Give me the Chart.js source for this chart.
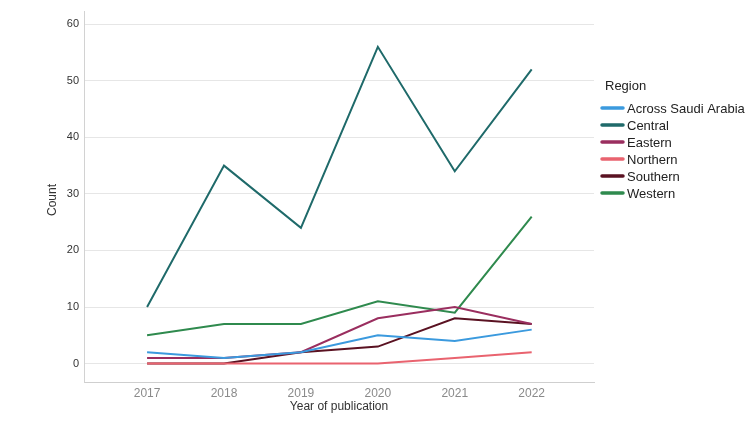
<!DOCTYPE html>
<html>
<head>
<meta charset="utf-8">
<script src="https://cdn.jsdelivr.net/npm/chart.js@4/dist/chart.umd.min.js"></script>
<style>
html,body{margin:0;padding:0;background:#fff;}
#wrap{width:750px;height:422px;position:relative;}
</style>
</head>
<body>
<div id="wrap"><canvas id="c" width="750" height="422"></canvas></div>
<script>
const years = [2017, 2018, 2019, 2020, 2021, 2022];
const regions = ["Across Saudi Arabia", "Central", "Eastern", "Northern", "Southern", "Western"];
const acrossSaudiArabia = [2, 1, 2, 5, 4, 6];
const central = [10, 35, 24, 56, 34, 52];
const eastern = [1, 1, 2, 8, 10, 7];
const northern = [0, 0, 0, 0, 1, 2];
const southern = [0, 0, 2, 3, 8, 7];
const western = [5, 7, 7, 11, 9, 26];
const yTicks = [0, 10, 20, 30, 40, 50, 60];
const legendTitle = "Region";
const xTitle = "Year of publication";
const yTitle = "Count";

const seriesValues = [acrossSaudiArabia, central, eastern, northern, southern, western];
const colors = ["#3b9ade", "#1f6a6a", "#9a2e5f", "#e9636f", "#5a1222", "#2f8a4e"];

const FONT = "'Liberation Sans', Arial, Helvetica, sans-serif";

const datasets = regions.map((name, i) => ({
  label: name,
  data: years.map((yr, j) => ({x: yr, y: seriesValues[i][j]})),
  borderColor: colors[i],
  backgroundColor: colors[i],
  borderWidth: 2,
  pointRadius: 0,
  tension: 0,
  fill: false
}));

const customLegend = {
  id: 'customLegend',
  afterDraw(chart) {
    const ctx = chart.ctx;
    ctx.save();
    ctx.textBaseline = 'middle';
    ctx.textAlign = 'left';
    ctx.fillStyle = '#222';
    ctx.font = '13px ' + FONT;
    ctx.fillText(legendTitle, 605, 86);
    chart.data.datasets.forEach((ds, i) => {
      const y = 108 + i * 17;
      ctx.strokeStyle = ds.borderColor;
      ctx.lineWidth = 3.5;
      ctx.lineCap = 'round';
      ctx.beginPath();
      ctx.moveTo(602, y);
      ctx.lineTo(623, y);
      ctx.stroke();
      ctx.fillStyle = '#222';
      ctx.fillText(ds.label, 627, y + 1);
    });
    // y-axis title
    ctx.save();
    ctx.translate(53, 200);
    ctx.rotate(-Math.PI / 2);
    ctx.textAlign = 'center';
    ctx.fillStyle = '#333';
    ctx.font = '12px ' + FONT;
    ctx.fillText(yTitle, 0, 0);
    ctx.restore();
    ctx.restore();
  }
};

new Chart(document.getElementById('c'), {
  type: 'line',
  data: {datasets},
  options: {
    responsive: false,
    animation: false,
    layout: {padding: {left: 0, right: 156, top: 0, bottom: 0}},
    plugins: {legend: {display: false}, tooltip: {enabled: false}},
    scales: {
      x: {
        type: 'linear',
        min: 2016.18,
        max: 2022.81,
        afterBuildTicks: (s) => { s.ticks = years.map(v => ({value: v})); },
        afterFit: (s) => { s.height = 40; },
        grid: {display: false, drawTicks: false},
        border: {display: true, color: '#cfcfcf', width: 1},
        ticks: {
          callback: (v) => String(v),
          color: '#8a8a8a',
          font: {family: FONT, size: 12},
          padding: 4,
          maxRotation: 0,
          autoSkip: false
        },
        title: {
          display: true,
          text: xTitle,
          color: '#333',
          font: {family: FONT, size: 12},
          padding: {top: 0, bottom: 8}
        }
      },
      y: {
        min: -3.26,
        max: 62.23,
        afterBuildTicks: (s) => { s.ticks = yTicks.map(v => ({value: v})); },
        afterFit: (s) => { s.width = 84; },
        grid: {color: '#e6e6e6', drawTicks: false, lineWidth: 1},
        border: {display: true, color: '#d2d2d2', width: 1},
        ticks: {
          color: '#333',
          font: {family: FONT, size: 11},
          padding: 5
        }
      }
    }
  },
  plugins: [customLegend]
});
</script>
</body>
</html>
